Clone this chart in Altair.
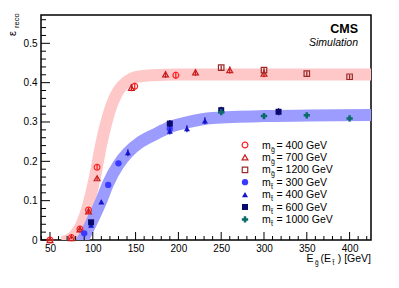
import altair as alt
import pandas as pd

# ---------------- data ----------------
g400_x = [50, 75, 85, 95, 105, 149, 197]
g400_y = [0.0, 0.006, 0.028, 0.076, 0.185, 0.391, 0.419]
g400_e = [0.003, 0.003, 0.004, 0.005, 0.006, 0.009, 0.009]

g700_x = [50, 75, 85, 95, 105, 145, 185, 220, 260, 300]
g700_y = [0.0, 0.005, 0.027, 0.073, 0.157, 0.387, 0.421, 0.426, 0.432, 0.423]
g700_e = [0.003, 0.003, 0.004, 0.005, 0.006, 0.009, 0.009, 0.009, 0.009, 0.009]

g1200_x = [250, 300, 350, 400]
g1200_y = [0.438, 0.432, 0.423, 0.415]
g1200_e = [0.006, 0.007, 0.006, 0.006]

t300_x = [90, 118, 130, 190]
t300_y = [0.017, 0.140, 0.195, 0.283]
t300_e = [0.004, 0.005, 0.006, 0.008]

t400_x = [98, 110, 141, 190, 210, 231]
t400_y = [0.038, 0.097, 0.222, 0.277, 0.283, 0.303]
t400_e = [0.004, 0.005, 0.009, 0.009, 0.009, 0.009]

t600_x = [98, 190, 250, 317]
t600_y = [0.045, 0.296, 0.330, 0.326]
t600_e = [0.005, 0.009, 0.009, 0.009]

t1000_x = [250, 300, 350, 400]
t1000_y = [0.325, 0.315, 0.317, 0.309]
t1000_e = [0.004, 0.003, 0.003, 0.003]

red_fit_x = [64, 72, 80, 86, 93, 102.5, 110, 120, 130, 140, 150, 170, 200, 425]
red_fit_y = [-0.006, 0.0, 0.015, 0.035, 0.076, 0.16, 0.245, 0.33, 0.38, 0.403, 0.414, 0.419, 0.421, 0.421]
blue_fit_x = [82, 88, 98, 110, 118, 130, 141, 155, 172, 190, 210, 240, 300, 425]
blue_fit_y = [-0.02, 0.0, 0.043, 0.1, 0.144, 0.192, 0.222, 0.248, 0.268, 0.287, 0.299, 0.31, 0.315, 0.318]

legend_main = ["m", "m", "m", "m", "m", "m", "m"]
legend_sub = ["g\u0303", "g\u0303", "g\u0303", "t\u0303", "t\u0303", "t\u0303", "t\u0303"]
legend_tail = ["= 400 GeV", "= 700 GeV", "= 1200 GeV", "= 300 GeV", "= 400 GeV", "= 600 GeV", "= 1000 GeV"]

x_ticks_major = [50, 100, 150, 200, 250, 300, 350, 400]
y_ticks_major = [0, 0.1, 0.2, 0.3, 0.4, 0.5]

# ---------------- styling ----------------
W, H = 330, 225
OX, OY = 41, 15  # plot origin on the page
FONT = "Liberation Sans"

series = [
    (g400_x, g400_y, g400_e, "circle", False, "#ff2020", 34),
    (g700_x, g700_y, g700_e, "triangle-up", False, "#c81e1e", 34),
    (g1200_x, g1200_y, g1200_e, "square", False, "#9a2a2a", 30),
    (t300_x, t300_y, t300_e, "circle", True, "#3a3aff", 40),
    (t400_x, t400_y, t400_e, "triangle-up", True, "#1414c8", 36),
    (t600_x, t600_y, t600_e, "square", True, "#0a0a6e", 36),
    (t1000_x, t1000_y, t1000_e, "cross", True, "#0b6b6b", 40),
]

xs = alt.Scale(domain=[39.5, 425], nice=False, zero=False)
ys = alt.Scale(domain=[0, 0.572], nice=False, zero=False)
xaxis = alt.Axis(values=x_ticks_major, ticks=False, tickSize=0, domain=False, grid=False,
                 labelFont=FONT, labelFontSize=10, labelColor="black", labelPadding=3, title=None)
yaxis = alt.Axis(values=y_ticks_major, ticks=False, tickSize=0, domain=False, grid=False,
                 labelFont=FONT, labelFontSize=10, labelColor="black", labelPadding=4, title=None,
                 labelExpr="datum.value == 0 ? '0' : format(datum.value, '.1f')")


def X(field="x"):
    return alt.X(f"{field}:Q", scale=xs, axis=xaxis, title=None)


def Y(field="y"):
    return alt.Y(f"{field}:Q", scale=ys, axis=yaxis, title=None)


layers = []

# fit bands
for fx, fy, col in [(red_fit_x, red_fit_y, "#ffc8c8"), (blue_fit_x, blue_fit_y, "#9c9cff")]:
    df = pd.DataFrame({"x": fx, "y": fy})
    layers.append(
        alt.Chart(df).mark_line(color=col, strokeWidth=12, interpolate="monotone", clip=True,
                                strokeCap="butt").encode(x=X(), y=Y())
    )

# inside ticks
y_minor = [round(i * 0.02, 2) for i in range(0, 29) if round(i * 0.02, 2) not in y_ticks_major]
x_minor = [v for v in range(40, 425, 10) if v not in x_ticks_major]
for vals, ln in [(y_ticks_major, 9), (y_minor, 5)]:
    layers.append(alt.Chart(pd.DataFrame({"y": vals})).mark_rule(color="black", strokeWidth=1)
                  .encode(y=Y(), x=alt.value(0), x2=alt.value(ln)))
for vals, ln in [(x_ticks_major, 8), (x_minor, 4)]:
    layers.append(alt.Chart(pd.DataFrame({"x": vals})).mark_rule(color="black", strokeWidth=1)
                  .encode(x=X(), y=alt.value(H), y2=alt.value(H - ln)))

# data points with error bars
for sx, sy, se, shape, filled, col, size in series:
    df = pd.DataFrame({"x": sx, "y": sy, "e": se})
    df["lo"] = df["y"] - df["e"]
    df["hi"] = df["y"] + df["e"]
    layers.append(alt.Chart(df).mark_rule(color=col, strokeWidth=1.3)
                  .encode(x=X(), y=Y("lo"), y2="hi:Q"))
    layers.append(alt.Chart(df).mark_point(shape=shape, filled=filled, color=col, size=size,
                                           strokeWidth=1.2, opacity=1)
                  .encode(x=X(), y=Y()))


def txt(s, px, py, size=10, align="left", weight="normal", style="normal", angle=0):
    return alt.Chart(alt.Data(values=[{"a": 1}])).mark_text(
        text=s, font=FONT, fontSize=size, align=align, baseline="alphabetic",
        fontWeight=weight, fontStyle=style, angle=angle, color="black"
    ).encode(x=alt.value(px - OX), y=alt.value(py - OY))


# legend
for i, (sx, sy, se, shape, filled, col, size) in enumerate(series):
    ry = 145 + i * 12.4
    layers.append(alt.Chart(alt.Data(values=[{"a": 1}])).mark_point(
        shape=shape, filled=filled, color=col, size=size, strokeWidth=1.2, opacity=1
    ).encode(x=alt.value(245 - OX), y=alt.value(ry - OY)))
    layers.append(txt(legend_main[i], 262, ry + 3.5, 10.5))
    layers.append(txt(legend_sub[i], 271, ry + 6.5, 7))
    layers.append(txt(legend_tail[i], 276.5, ry + 3.5, 10.5))

# CMS labels
layers.append(txt("CMS", 358, 32.5, 12.5, align="right", weight="bold"))
layers.append(txt("Simulation", 358, 46, 10.5, align="right", style="italic"))

# x title: E_g~ (E_t~) [GeV]
layers.append(txt("E", 306.5, 261.5, 10.5))
layers.append(txt("g\u0303", 315, 264.5, 6.5))
layers.append(txt("(E", 320.5, 261.5, 10.5))
layers.append(txt("t\u0303", 332.5, 264.5, 6.5))
layers.append(txt(") [GeV]", 371, 261.5, 10.5, align="right"))

# y title: epsilon_reco (rotated)
layers.append(txt("\u03b5", 15.5, 36, 11, angle=270))
layers.append(txt("reco", 18.5, 28, 7.5, angle=270))

chart = alt.layer(*layers).properties(
    width=W, height=H,
    padding={"left": 33, "top": 7, "right": 20, "bottom": 40},
    autosize="none",
).configure_view(stroke="black", strokeWidth=1.5)

chart.save("out.html", embed_options={"renderer": "svg", "actions": False})
